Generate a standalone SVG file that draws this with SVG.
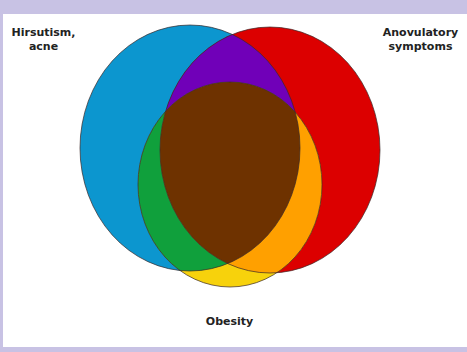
<svg xmlns="http://www.w3.org/2000/svg" width="467" height="352" viewBox="0 0 467 352">
<style>
.lbl{font-family:"DejaVu Sans","Liberation Sans",sans-serif;font-weight:bold;font-size:11px;fill:#222;text-anchor:middle}
.edge{fill:none;stroke:#3a2a2a;stroke-width:1;stroke-opacity:0.7}
</style>
<defs>
<clipPath id="cBlue"><ellipse cx="190" cy="148" rx="110" ry="123"/></clipPath>
<clipPath id="cRed"><ellipse cx="270" cy="150" rx="110" ry="123"/></clipPath>
</defs>
<rect x="0" y="0" width="467" height="352" fill="#c8c2e4"/>
<rect x="3" y="14" width="464" height="333" fill="#ffffff"/>
<g id="hirsutism">
<ellipse cx="190" cy="148" rx="110" ry="123" fill="#0c96cf"/>
</g>
<g id="anovulatory">
<ellipse cx="270" cy="150" rx="110" ry="123" fill="#dc0000"/>
</g>
<g id="obesity">
<ellipse cx="230" cy="184.5" rx="92" ry="102.5" fill="#f7d20c"/>
</g>
<g id="overlaps">
<g clip-path="url(#cBlue)">
<ellipse cx="270" cy="150" rx="110" ry="123" fill="#7000b8"/>
<ellipse cx="230" cy="184.5" rx="92" ry="102.5" fill="#10a03c"/>
</g>
<g clip-path="url(#cRed)">
<ellipse cx="230" cy="184.5" rx="92" ry="102.5" fill="#ffa000"/>
<g clip-path="url(#cBlue)">
<ellipse cx="230" cy="184.5" rx="92" ry="102.5" fill="#6e3200"/>
</g>
</g>
</g>
<g id="outlines">
<ellipse class="edge" cx="190" cy="148" rx="110" ry="123"/>
<ellipse class="edge" cx="270" cy="150" rx="110" ry="123"/>
<ellipse class="edge" cx="230" cy="184.5" rx="92" ry="102.5"/>
</g>
<g id="labels">
<text class="lbl" x="43.5" y="36">Hirsutism,</text>
<text class="lbl" x="43.5" y="50">acne</text>
<text class="lbl" x="420.5" y="36">Anovulatory</text>
<text class="lbl" x="420.5" y="50">symptoms</text>
<text class="lbl" x="229.5" y="325">Obesity</text>
</g>
</svg>
